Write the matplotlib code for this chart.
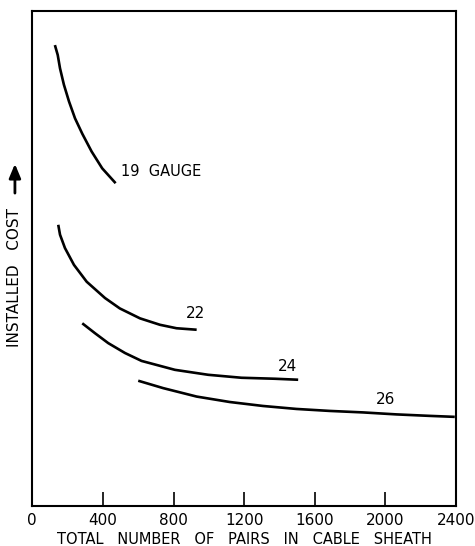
import numpy as np
import matplotlib.pyplot as plt

# installed cost vs. cable size, one curve per wire gauge (cost in relative units)
pairs_19 = [128, 144, 157, 179, 208, 242, 283, 336, 396, 472]
cost_19 = [9.31, 9.11, 8.84, 8.51, 8.17, 7.83, 7.52, 7.16, 6.82, 6.52]

pairs_22 = [147, 157, 185, 236, 308, 412, 496, 610, 723, 817, 931]
cost_22 = [5.68, 5.48, 5.21, 4.87, 4.53, 4.20, 3.99, 3.79, 3.66, 3.59, 3.56]

pairs_24 = [283, 355, 430, 525, 619, 808, 996, 1185, 1374, 1506]
cost_24 = [3.69, 3.49, 3.29, 3.09, 2.93, 2.75, 2.65, 2.59, 2.57, 2.55]

pairs_26 = [600, 742, 931, 1119, 1307, 1496, 1685, 1873, 2062, 2251, 2393]
cost_26 = [2.53, 2.38, 2.21, 2.10, 2.02, 1.96, 1.92, 1.89, 1.85, 1.82, 1.80]

x_ticks = [0, 400, 800, 1200, 1600, 2000, 2400]

fig = plt.figure(figsize=(4.75, 5.46), dpi=100)
ax = fig.add_axes([0.068, 0.0733, 0.892, 0.9067])

for xs, ys in [(pairs_19, cost_19), (pairs_22, cost_22),
               (pairs_24, cost_24), (pairs_26, cost_26)]:
    ax.plot(xs, ys, color='black', lw=1.9, solid_capstyle='butt',
            solid_joinstyle='round')

ax.text(502, 6.75, '19  GAUGE', fontsize=10.5, ha='left', va='center')
ax.text(926, 3.88, '22', fontsize=11, ha='center', va='center')
ax.text(1446, 2.81, '24', fontsize=11, ha='center', va='center')
ax.text(2002, 2.16, '26', fontsize=11, ha='center', va='center')

ax.set_xlim(0, 2400)
ax.set_ylim(0, 10)
ax.set_xticks(x_ticks)
ax.set_xticklabels([str(t) for t in x_ticks], fontsize=11)
ax.set_yticks([])
ax.tick_params(axis='x', direction='in', length=10, width=1.2, pad=5)
for s in ax.spines.values():
    s.set_linewidth(1.5)

ax.set_xlabel('TOTAL   NUMBER   OF   PAIRS   IN   CABLE   SHEATH',
              fontsize=10.5, labelpad=3)

# y label with an upward arrow
ax.text(-0.041, 0.462, 'INSTALLED   COST', transform=ax.transAxes,
        rotation=90, ha='center', va='center', fontsize=11)
ax.annotate('', xy=(-0.041, 0.691), xytext=(-0.041, 0.632),
            xycoords='axes fraction', textcoords='axes fraction',
            arrowprops=dict(arrowstyle='-|>,head_length=0.6,head_width=0.25',
                            color='black', lw=2, mutation_scale=14,
                            shrinkA=0, shrinkB=0),
            annotation_clip=False)

fig.savefig('out.png', dpi=100)
